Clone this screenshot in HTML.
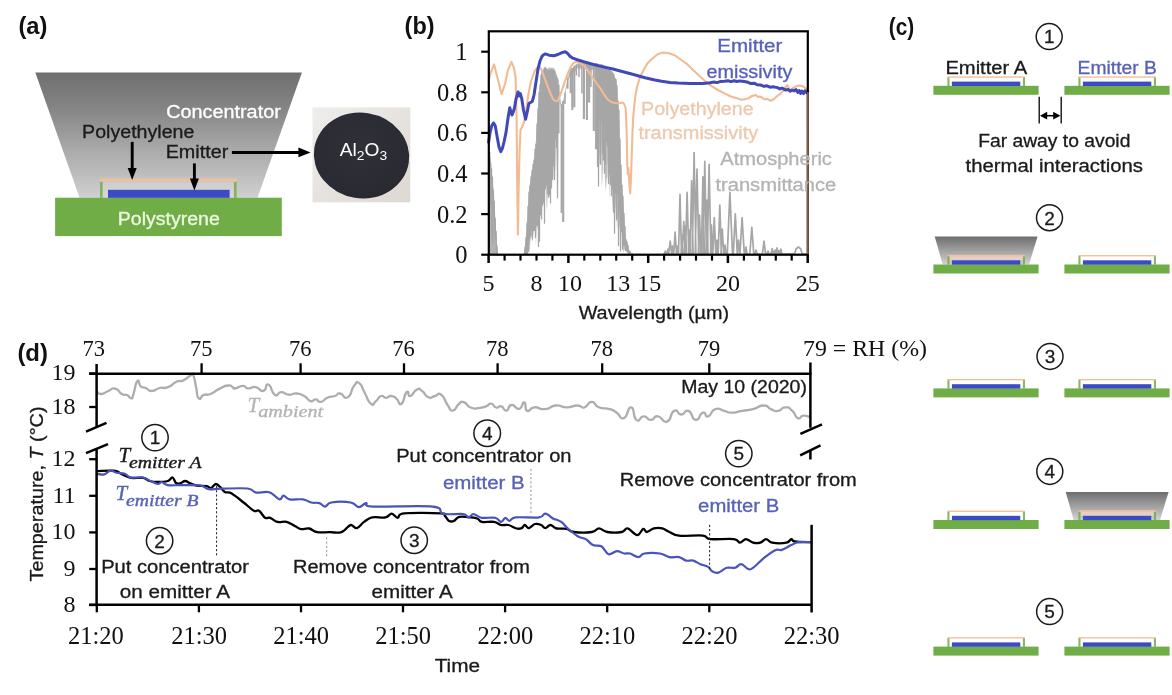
<!DOCTYPE html>
<html lang="en"><head><meta charset="utf-8"><title>Radiative cooling concentrator figure</title>
<style>
html,body{margin:0;padding:0;background:#fff;}
body{width:1172px;height:695px;overflow:hidden;}
svg{display:block;}
.sans{font-family:"Liberation Sans", sans-serif;}
.serif{font-family:"Liberation Serif", serif;}
</style></head><body>
<svg width="1172" height="695" viewBox="0 0 1172 695">
<defs>
<linearGradient id="gTrap" x1="0" y1="0" x2="0" y2="1"><stop offset="0" stop-color="#6f6f6f"/><stop offset="0.3" stop-color="#868686"/><stop offset="0.6" stop-color="#a8a8a8"/><stop offset="1" stop-color="#d0d0d0"/></linearGradient>
<linearGradient id="gTrapS" x1="0" y1="0" x2="0" y2="1"><stop offset="0" stop-color="#6e6e6e"/><stop offset="1" stop-color="#d2d2d2"/></linearGradient>
<linearGradient id="gPhoto" x1="0" y1="0" x2="1" y2="1"><stop offset="0" stop-color="#efeeec"/><stop offset="1" stop-color="#ddd8d2"/></linearGradient>
<radialGradient id="gDisk" cx="0.45" cy="0.4" r="0.7"><stop offset="0" stop-color="#2f3038"/><stop offset="0.8" stop-color="#2a2b32"/><stop offset="1" stop-color="#24252b"/></radialGradient>
</defs>
<rect width="1172" height="695" fill="#fff"/>
<g id="panel-a">
<text x="18.4" y="33.8" font-size="24" fill="#111" class="sans" textLength="29" lengthAdjust="spacingAndGlyphs" font-weight="bold">(a)</text>
<polygon points="35.3,72.6 301.9,72.6 257.5,197.7 79.6,197.7" fill="url(#gTrap)"/>
<rect x="102.4" y="182" width="131.4" height="15.7" fill="#ffffff" opacity="0.16"/>
<rect x="55.1" y="197.7" width="226.7" height="38.4" fill="#70ad47"/>
<rect x="108" y="189.8" width="121.6" height="8" fill="#3b4bc3"/>
<rect x="100" y="181.5" width="2.6" height="16.3" fill="#70ad47" opacity="0.8"/>
<rect x="234" y="181.5" width="2.6" height="16.3" fill="#70ad47" opacity="0.8"/>
<rect x="100" y="178.3" width="136.6" height="3.6" fill="#f2c0a0" opacity="0.8"/>
<text x="166.2" y="118" font-size="17.5" fill="#ffffff" class="sans" stroke="#ffffff" stroke-width="0.3" textLength="114.6" lengthAdjust="spacingAndGlyphs">Concentrator</text>
<text x="82.1" y="137.9" font-size="17.5" fill="#1a1a1a" class="sans" stroke="#1a1a1a" stroke-width="0.3" textLength="112.3" lengthAdjust="spacingAndGlyphs">Polyethylene</text>
<text x="165.7" y="157.7" font-size="17.5" fill="#1a1a1a" class="sans" stroke="#1a1a1a" stroke-width="0.3" textLength="62.6" lengthAdjust="spacingAndGlyphs">Emitter</text>
<text x="117.8" y="224.6" font-size="17.5" fill="#eef9e0" class="sans" stroke="#eef9e0" stroke-width="0.3" textLength="102" lengthAdjust="spacingAndGlyphs">Polystyrene</text>
<line x1="132.2" y1="141.9" x2="132.2" y2="169.1" stroke="#000" stroke-width="2.9"/>
<polygon points="127.69999999999999,168.1 136.7,168.1 132.2,180.1" fill="#000"/>
<line x1="194.4" y1="163.4" x2="194.4" y2="179.4" stroke="#000" stroke-width="2.9"/>
<polygon points="189.9,178.4 198.9,178.4 194.4,190.4" fill="#000"/>
<line x1="231.9" y1="152.4" x2="300" y2="152.4" stroke="#000" stroke-width="3"/>
<polygon points="298.4,147.6 298.4,157.2 310.6,152.4" fill="#000"/>
<rect x="312.5" y="107.4" width="97.8" height="94.9" fill="url(#gPhoto)"/>
<ellipse cx="361.5" cy="155.5" rx="47.8" ry="42.8" fill="url(#gDisk)" transform="rotate(9 361.5 155.5)"/>
<text x="339.8" y="155.8" font-size="18" fill="#fff" class="sans" textLength="47.4" lengthAdjust="spacingAndGlyphs">Al<tspan font-size="13" dy="4.5">2</tspan><tspan dy="-4.5">O</tspan><tspan font-size="13" dy="4.5">3</tspan></text>
</g>
<g id="panel-b">
<text x="404.6" y="33.8" font-size="24" fill="#111" class="sans" textLength="30" lengthAdjust="spacingAndGlyphs" font-weight="bold">(b)</text>
<polygon points="488.6,254.7 488.6,147.9 489.3,149.3 490.0,156.6 490.7,158.7 491.4,168.1 492.1,174.6 492.8,181.0 493.5,192.7 494.2,199.6 494.9,212.3 495.6,221.0 496.3,232.6 497.0,246.6 497.6,254.7" fill="#a6a6a6" opacity="0.85"/>
<polygon points="524.0,254.7 524.8,248.9 525.6,240.7 526.4,232.3 527.2,221.5 528.0,208.6 528.8,191.4 529.6,185.6 530.4,181.4 531.2,176.5 532.0,171.4 532.8,167.8 533.6,162.3 534.4,155.5 535.2,147.6 536.0,140.1 536.8,125.3 537.6,111.3 538.4,102.6 539.2,90.7 540.0,83.3 540.8,74.8 541.6,71.7 542.4,70.9 543.2,70.0 544.0,69.3 544.8,69.2 544.8,192.6 544.0,177.7 543.2,205.7 542.4,201.6 541.6,222.9 540.8,190.3 540.0,219.8 539.2,204.3 538.4,223.6 537.6,229.7 536.8,216.5 536.0,245.7 535.2,228.1 534.4,225.4 533.6,231.1 532.8,239.9 532.0,241.1 531.2,235.0 530.4,239.6 529.6,253.7 528.8,237.8 528.0,238.1 527.2,244.0 526.4,252.6 525.6,253.0 524.8,253.8 524.0,254.7" fill="#a6a6a6" opacity="0.8"/>
<polygon points="545.0,69.0 545.8,69.3 546.6,68.2 547.4,68.9 548.2,67.6 549.0,67.2 549.8,67.3 550.6,69.6 551.4,67.8 552.2,67.4 553.0,68.4 553.8,67.3 554.6,69.5 555.4,71.1 556.2,72.5 557.0,76.3 557.8,78.3 557.8,141.1 557.0,172.1 556.2,141.5 555.4,171.1 554.6,168.8 553.8,168.1 553.0,183.8 552.2,170.4 551.4,176.2 550.6,197.3 549.8,198.3 549.0,193.0 548.2,188.2 547.4,204.9 546.6,210.2 545.8,190.4 545.0,172.4" fill="#a6a6a6" opacity="0.5"/>
<polygon points="597.0,65.3 597.8,64.1 598.6,66.1 599.4,65.7 600.2,64.9 601.0,63.6 601.8,65.9 602.6,66.9 603.4,65.5 604.2,65.3 605.0,67.8 605.8,67.3 606.6,67.7 607.4,68.2 608.2,68.7 609.0,69.5 609.8,69.8 610.6,68.2 611.4,71.4 612.2,73.1 613.0,72.9 613.8,75.7 614.6,77.6 615.4,79.2 616.2,79.6 617.0,84.7 617.8,97.1 618.6,106.5 619.4,123.4 620.2,143.4 621.0,163.6 621.8,178.7 622.6,191.4 623.4,203.0 624.2,214.4 625.0,225.8 625.8,236.6 626.6,240.9 627.4,244.0 628.2,246.1 629.0,250.1 629.8,252.0 630.6,252.2 631.4,252.9 632.2,254.7 633.0,254.7 633.0,254.7 632.2,254.4 631.4,254.6 630.6,254.2 629.8,253.4 629.0,254.0 628.2,252.3 627.4,252.3 626.6,251.9 625.8,251.5 625.0,248.6 624.2,250.6 623.4,252.7 622.6,242.9 621.8,235.0 621.0,227.4 620.2,233.7 619.4,224.4 618.6,227.8 617.8,216.7 617.0,229.7 616.2,200.3 615.4,214.3 614.6,180.2 613.8,198.5 613.0,211.4 612.2,200.3 611.4,163.4 610.6,155.9 609.8,200.7 609.0,173.8 608.2,152.1 607.4,177.1 606.6,179.3 605.8,192.3 605.0,179.6 604.2,138.3 603.4,148.5 602.6,177.4 601.8,187.8 601.0,140.4 600.2,146.5 599.4,165.1 598.6,161.1 597.8,115.1 597.0,128.6" fill="#a6a6a6" opacity="0.7"/>
<polygon points="557.5,75.3 558.3,83.7 559.1,90.5 559.9,95.4 560.7,100.9 561.5,104.9 562.3,102.8 563.1,100.8 563.9,98.3 564.7,94.4 565.5,89.1 566.3,84.3 567.1,81.6 567.9,78.3 568.7,73.7 569.5,72.6 570.3,69.7 571.1,69.7 571.9,67.7 572.7,68.4 573.5,67.2 574.3,65.3 575.1,65.3 575.9,65.6 576.7,64.7 577.5,64.1 578.3,63.4 579.1,62.2 579.9,63.4 580.7,61.9 581.5,62.1 582.3,62.0 583.1,62.1 583.9,62.3 584.7,62.3 585.5,62.2 586.3,61.9 587.1,61.9 587.9,63.0 588.7,62.9 589.5,62.2 590.3,62.9 591.1,63.8 591.9,63.3 592.7,64.3 593.5,64.1 594.3,63.9 595.1,63.4 595.9,63.1 596.7,64.4 597.5,63.3 598.3,64.8 599.1,64.6 599.9,63.8 600.7,64.4 601.5,64.6 602.3,65.9 603.1,65.4 603.9,66.6 603.9,71.2 603.1,70.5 602.3,73.9 601.5,70.0 600.7,69.2 599.9,69.8 599.1,69.7 598.3,72.5 597.5,68.4 596.7,69.2 595.9,68.2 595.1,68.0 594.3,69.6 593.5,71.0 592.7,69.1 591.9,70.7 591.1,69.1 590.3,69.5 589.5,71.1 588.7,71.6 587.9,67.9 587.1,70.5 586.3,68.1 585.5,68.5 584.7,69.3 583.9,70.5 583.1,68.3 582.3,66.9 581.5,67.2 580.7,69.2 579.9,67.9 579.1,69.3 578.3,68.9 577.5,67.7 576.7,68.5 575.9,71.9 575.1,69.8 574.3,73.6 573.5,71.3 572.7,74.4 571.9,73.0 571.1,77.0 570.3,76.5 569.5,77.4 568.7,78.4 567.9,81.9 567.1,88.5 566.3,88.6 565.5,96.5 564.7,98.6 563.9,106.0 563.1,108.8 562.3,108.1 561.5,111.6 560.7,105.0 559.9,104.3 559.1,95.6 558.3,87.9 557.5,84.4" fill="#a6a6a6" opacity="0.8"/>
<line x1="558.5" y1="84.5" x2="558.5" y2="133.5" stroke="#a6a6a6" stroke-width="2.1"/>
<line x1="561.4" y1="104.5" x2="561.4" y2="213.0" stroke="#a6a6a6" stroke-width="1.6"/>
<line x1="563.2" y1="100.9" x2="563.2" y2="222.0" stroke="#a6a6a6" stroke-width="2.1"/>
<line x1="565.0" y1="92.5" x2="565.0" y2="103.9" stroke="#a6a6a6" stroke-width="1.5"/>
<line x1="567.8" y1="77.6" x2="567.8" y2="88.7" stroke="#a6a6a6" stroke-width="1.5"/>
<line x1="570.7" y1="69.6" x2="570.7" y2="93.2" stroke="#a6a6a6" stroke-width="2.1"/>
<line x1="572.3" y1="67.9" x2="572.3" y2="110.1" stroke="#a6a6a6" stroke-width="2.1"/>
<line x1="574.3" y1="66.1" x2="574.3" y2="107.3" stroke="#a6a6a6" stroke-width="2.1"/>
<line x1="576.4" y1="64.3" x2="576.4" y2="75.6" stroke="#a6a6a6" stroke-width="1.5"/>
<line x1="579.0" y1="62.5" x2="579.0" y2="77.1" stroke="#a6a6a6" stroke-width="1.5"/>
<line x1="581.9" y1="62.6" x2="581.9" y2="93.5" stroke="#a6a6a6" stroke-width="1.5"/>
<line x1="583.9" y1="62.7" x2="583.9" y2="119.0" stroke="#a6a6a6" stroke-width="2.1"/>
<line x1="586.9" y1="62.9" x2="586.9" y2="120.0" stroke="#a6a6a6" stroke-width="2.1"/>
<line x1="589.1" y1="63.0" x2="589.1" y2="102.6" stroke="#a6a6a6" stroke-width="2.1"/>
<line x1="590.9" y1="63.1" x2="590.9" y2="86.9" stroke="#a6a6a6" stroke-width="1.5"/>
<line x1="593.8" y1="63.5" x2="593.8" y2="131.0" stroke="#a6a6a6" stroke-width="2.1"/>
<line x1="596.1" y1="63.8" x2="596.1" y2="149.2" stroke="#a6a6a6" stroke-width="2.1"/>
<polyline points="488.9,150.8 489.3,169.1 489.8,152.4 490.2,203.9 490.7,163.0 491.1,207.9 491.6,168.9 492.0,240.5 492.5,177.2 492.9,243.5 493.4,189.8 493.8,212.0 494.3,201.4 494.7,234.3 495.2,218.3 495.6,240.1 496.1,231.6 496.5,254.7 497.0,245.9 497.4,254.7 497.6,254.7 523.5,254.7 524.0,254.5 524.5,254.7 525.0,247.2 525.5,254.1 526.0,237.5 526.5,253.1 527.0,222.8 527.5,254.3 528.0,206.5 528.5,251.3 529.0,192.5 529.5,240.0 530.0,185.6 530.5,235.6 531.0,176.9 531.5,231.2 532.0,170.3 532.5,238.3 533.0,164.4 533.5,230.5 534.0,160.1 534.5,230.5 535.0,149.2 535.5,237.4 536.0,144.2 536.5,225.3 537.0,124.1 537.5,225.8 538.0,108.9 538.5,246.4 539.0,92.5 539.5,241.2 540.0,84.8 540.5,214.6 541.0,75.1 541.5,218.7 542.0,70.7 542.5,205.4 543.0,72.0 543.5,202.5 544.0,68.5 544.5,223.2 545.0,67.4 545.5,188.6 546.0,68.0 546.5,184.9 547.0,69.5 547.5,193.6 548.0,70.4 548.5,197.0 549.0,70.2 549.5,194.3 550.0,68.3 550.5,203.1 551.0,69.8 551.5,187.8 552.0,68.3 552.5,179.4 553.0,70.4 553.5,165.3 554.0,69.3 554.5,179.5 555.0,71.5 555.5,139.2 556.0,74.9 556.5,147.7 557.0,77.5 557.5,197.8 558.0,79.2" fill="none" stroke="#a6a6a6" stroke-width="1.25" stroke-linejoin="round"/>
<polyline points="597.0,63.0 597.0,67.4 597.5,166.4 598.0,67.7 598.5,186.1 599.0,66.8 599.5,120.6 600.0,65.6 600.5,164.2 601.0,64.9 601.5,121.8 602.0,64.5 602.5,153.6 603.0,65.8 603.5,160.0 604.0,66.0 604.5,173.2 605.0,67.8 605.5,164.1 606.0,66.3 606.5,141.3 607.0,68.3 607.5,146.1 608.0,71.2 608.5,183.6 609.0,67.6 609.5,173.7 610.0,67.5 610.5,184.5 611.0,71.3 611.5,195.8 612.0,71.9 612.5,189.0 613.0,73.2 613.5,212.1 614.0,74.6 614.5,233.3 615.0,78.3 615.5,193.4 616.0,79.3 616.5,219.8 617.0,85.9 617.5,194.1 618.0,101.2 618.5,245.8 619.0,110.2 619.5,211.7 620.0,138.9 620.5,251.0 621.0,165.0 621.5,231.4 622.0,185.4 622.5,249.2 623.0,196.1 623.5,245.4 624.0,213.4 624.5,245.0 625.0,226.7 625.5,250.4 626.0,239.8 626.5,250.5 627.0,241.7 627.5,252.0 628.0,245.5 628.5,253.9 629.0,250.7 629.5,254.5 630.0,251.4 630.5,254.1 631.0,254.2 631.5,254.3 632.0,253.5 632.5,254.5 633.0,254.5 633.5,254.7 634.0,254.7" fill="none" stroke="#a6a6a6" stroke-width="1.25" stroke-linejoin="round"/>
<polyline points="663.0,254.2 664.2,254.2 665.4,251.0 666.6,254.2 667.0,254.2 668.0,249.0 669.0,254.2 668.7,254.2 670.2,241.0 671.7,254.2 671.5,254.2 672.5,246.0 673.5,254.2 673.7,254.2 675.1,232.0 676.5,254.2 676.5,254.2 677.5,246.0 678.5,254.2 678.5,254.2 680.0,194.4 681.5,254.2 681.0,254.2 682.0,235.0 683.0,254.2 682.2,254.2 683.8,221.6 685.4,254.2 684.5,254.2 685.5,226.0 686.5,254.2 685.5,254.2 687.1,192.4 688.7,254.2 688.5,254.2 689.5,230.0 690.5,254.2 690.1,254.2 691.6,180.8 693.1,254.2 692.3,254.2 694.1,152.6 695.9,254.2 695.2,254.2 697.0,169.0 698.8,254.2 698.3,254.2 699.5,215.0 700.7,254.2 701.4,254.2 702.9,176.9 704.4,254.2 703.2,254.2 704.8,161.4 706.4,254.2 706.0,254.2 707.0,200.0 708.0,254.2 707.3,254.2 709.1,164.3 710.9,254.2 710.5,254.2 711.5,225.0 712.5,254.2 712.8,254.2 714.3,217.7 715.8,254.2 716.0,254.2 717.0,240.0 718.0,254.2 718.2,254.2 719.8,205.0 721.4,254.2 720.9,254.2 722.3,229.0 723.7,254.2 724.0,254.2 725.0,245.0 726.0,254.2 727.3,254.2 729.9,192.4 732.5,254.2 733.3,254.2 735.3,213.8 737.3,254.2 737.3,254.2 738.5,240.0 739.7,254.2 739.9,254.2 742.1,217.7 744.3,254.2 745.0,254.2 746.0,247.0 747.0,254.2 749.8,254.2 751.8,227.4 753.8,254.2 755.0,254.2 756.0,250.0 757.0,254.2 762.4,254.2 764.0,241.0 765.6,254.2 767.0,254.2 768.0,251.0 769.0,254.2 770.9,254.2 772.2,248.7 773.5,254.2 774.0,254.2 775.0,250.0 776.0,254.2 775.8,254.2 777.0,247.8 778.2,254.2 778.2,254.2 779.0,250.5 779.8,254.2 779.9,254.2 780.9,249.0 781.9,254.2 794.5,254.2 796.0,249.0 798.4,246.8 800.8,249.0 802.3,254.2 807.7,254.2" fill="none" stroke="#a6a6a6" stroke-width="1.7" stroke-linejoin="round"/>
<polyline points="488.6,81.0 491.0,72.0 494.1,64.4 497.0,76.0 501.6,94.2 505.0,84.0 508.0,70.0 511.5,61.9 514.0,68.0 515.6,77.7 516.6,120.0 517.3,190.0 517.9,234.6 518.6,190.0 519.6,150.0 520.5,130.0 522.0,127.0 524.0,122.0 526.0,112.0 528.4,94.2 531.0,81.0 534.7,71.0 537.0,68.0 539.6,66.9 542.0,71.0 546.2,82.6 549.5,91.0 552.9,99.2 555.5,101.0 557.8,100.8 561.0,93.0 564.5,82.6 568.0,73.0 571.1,66.1 573.5,63.0 576.0,61.9 580.0,63.0 584.3,66.0 588.5,71.5 592.6,77.7 596.7,83.5 600.9,89.2 604.0,94.5 607.5,99.2 611.0,102.0 615.8,103.3 620.0,103.0 622.4,102.5 624.2,104.0 625.7,108.0 626.6,130.0 627.3,165.0 627.8,174.0 628.4,168.0 628.9,176.0 629.5,186.0 630.2,193.4 630.9,180.0 631.6,160.0 632.4,135.0 633.2,118.0 634.0,108.0 635.5,95.0 637.3,86.0 640.0,77.0 643.9,69.4 647.0,64.0 650.5,60.3 653.3,57.8 658.0,54.0 663.2,52.5 668.0,53.0 674.8,55.3 680.0,59.0 686.4,63.6 693.0,70.0 699.6,76.0 705.0,81.0 711.2,85.9 718.0,90.0 724.5,93.4 731.0,96.5 737.7,98.4 741.0,99.8 744.3,99.2 748.0,98.5 752.0,96.0 755.9,95.0 758.0,97.0 760.0,96.5 764.2,99.2 767.0,99.0 770.8,100.8 774.0,99.0 777.4,95.9 780.0,94.0 782.4,91.7 785.0,88.0 787.4,85.1 789.0,88.0 790.7,91.7 793.0,88.0 797.3,85.9 800.0,85.5 803.9,86.8 806.0,89.0 807.7,91.0 807.9,254.7" fill="none" stroke="#f2bb94" stroke-width="2.1" stroke-linejoin="round"/>
<polyline points="488.6,142.0 490.0,133.0 491.8,125.5 493.6,122.9 495.3,126.0 497.0,136.0 499.0,147.0 500.8,151.6 502.5,148.0 504.0,142.0 506.0,132.6 508.0,118.0 509.8,107.8 511.0,112.0 512.0,115.0 513.2,112.0 514.5,108.0 516.0,99.0 518.1,92.0 519.3,96.0 520.4,93.5 521.8,99.0 523.5,110.0 525.6,119.2 527.0,113.0 528.9,103.5 530.5,102.5 532.4,101.2 534.0,95.0 536.0,82.0 538.0,69.0 540.0,61.0 542.1,56.1 543.8,54.6 545.4,53.9 549.0,55.2 553.8,55.8 558.0,54.5 562.0,52.6 565.2,51.8 567.8,53.6 570.0,56.2 572.8,58.2 578.0,60.0 584.3,61.9 590.7,63.7 600.9,66.4 613.0,69.0 617.4,70.2 626.0,72.5 635.3,75.0 645.0,77.7 655.0,80.0 661.6,81.3 670.0,82.4 678.1,83.0 690.0,83.6 702.9,83.5 710.0,82.7 714.0,82.0 717.0,82.6 720.0,81.6 724.5,81.3 728.0,80.8 731.0,81.6 734.0,80.7 737.0,81.5 740.0,80.9 744.3,81.5 748.0,82.3 751.0,83.6 754.0,83.2 757.0,84.7 760.9,85.1 764.0,86.3 767.0,85.8 770.0,87.2 773.0,86.7 777.4,87.6 780.0,88.9 782.0,88.0 785.7,90.1 788.0,89.4 790.0,91.2 792.0,90.0 794.0,90.9 796.0,89.6 797.8,92.5 799.2,90.5 800.6,93.4 802.0,91.0 803.5,93.6 805.0,90.8 806.5,92.6 807.7,91.7" fill="none" stroke="#4149b8" stroke-width="3" stroke-linejoin="round" stroke-linecap="round"/>
<rect x="488.8" y="31.3" width="319" height="223.4" fill="none" stroke="#000" stroke-width="2.2"/>
<line x1="807.9" y1="92" x2="807.9" y2="254" stroke="#f4b183" stroke-width="1.2" opacity="0.75"/>
<line x1="481.2" y1="254.7" x2="488.8" y2="254.7" stroke="#000" stroke-width="2.2"/>
<text x="467.6" y="263.2" font-size="24.5" fill="#111" class="serif" text-anchor="end">0</text>
<line x1="481.2" y1="214.1" x2="488.8" y2="214.1" stroke="#000" stroke-width="2.2"/>
<text x="467.6" y="222.6" font-size="24.5" fill="#111" class="serif" text-anchor="end">0.2</text>
<line x1="481.2" y1="173.5" x2="488.8" y2="173.5" stroke="#000" stroke-width="2.2"/>
<text x="467.6" y="182.0" font-size="24.5" fill="#111" class="serif" text-anchor="end">0.4</text>
<line x1="481.2" y1="132.9" x2="488.8" y2="132.9" stroke="#000" stroke-width="2.2"/>
<text x="467.6" y="141.4" font-size="24.5" fill="#111" class="serif" text-anchor="end">0.6</text>
<line x1="481.2" y1="92.3" x2="488.8" y2="92.3" stroke="#000" stroke-width="2.2"/>
<text x="467.6" y="100.8" font-size="24.5" fill="#111" class="serif" text-anchor="end">0.8</text>
<line x1="481.2" y1="51.7" x2="488.8" y2="51.7" stroke="#000" stroke-width="2.2"/>
<text x="467.6" y="60.2" font-size="24.5" fill="#111" class="serif" text-anchor="end">1</text>
<line x1="488.6" y1="254.7" x2="488.6" y2="263" stroke="#000" stroke-width="2.5"/>
<line x1="504.6" y1="254.7" x2="504.6" y2="260.6" stroke="#000" stroke-width="2.2"/>
<line x1="520.5" y1="254.7" x2="520.5" y2="260.6" stroke="#000" stroke-width="2.2"/>
<line x1="536.5" y1="254.7" x2="536.5" y2="260.6" stroke="#000" stroke-width="2.2"/>
<line x1="552.4" y1="254.7" x2="552.4" y2="260.6" stroke="#000" stroke-width="2.2"/>
<line x1="568.4" y1="254.7" x2="568.4" y2="263" stroke="#000" stroke-width="2.5"/>
<line x1="584.3" y1="254.7" x2="584.3" y2="260.6" stroke="#000" stroke-width="2.2"/>
<line x1="600.3" y1="254.7" x2="600.3" y2="260.6" stroke="#000" stroke-width="2.2"/>
<line x1="616.2" y1="254.7" x2="616.2" y2="260.6" stroke="#000" stroke-width="2.2"/>
<line x1="632.2" y1="254.7" x2="632.2" y2="260.6" stroke="#000" stroke-width="2.2"/>
<line x1="648.2" y1="254.7" x2="648.2" y2="263" stroke="#000" stroke-width="2.5"/>
<line x1="664.1" y1="254.7" x2="664.1" y2="260.6" stroke="#000" stroke-width="2.2"/>
<line x1="680.1" y1="254.7" x2="680.1" y2="260.6" stroke="#000" stroke-width="2.2"/>
<line x1="696.0" y1="254.7" x2="696.0" y2="260.6" stroke="#000" stroke-width="2.2"/>
<line x1="712.0" y1="254.7" x2="712.0" y2="260.6" stroke="#000" stroke-width="2.2"/>
<line x1="727.9" y1="254.7" x2="727.9" y2="263" stroke="#000" stroke-width="2.5"/>
<line x1="743.9" y1="254.7" x2="743.9" y2="260.6" stroke="#000" stroke-width="2.2"/>
<line x1="759.8" y1="254.7" x2="759.8" y2="260.6" stroke="#000" stroke-width="2.2"/>
<line x1="775.8" y1="254.7" x2="775.8" y2="260.6" stroke="#000" stroke-width="2.2"/>
<line x1="791.7" y1="254.7" x2="791.7" y2="260.6" stroke="#000" stroke-width="2.2"/>
<line x1="807.7" y1="254.7" x2="807.7" y2="263" stroke="#000" stroke-width="2.5"/>
<text x="488.6" y="291.3" font-size="24" fill="#111" class="serif" text-anchor="middle">5</text>
<text x="536.5" y="291.3" font-size="24" fill="#111" class="serif" text-anchor="middle">8</text>
<text x="570.0" y="291.3" font-size="24" fill="#111" class="serif" text-anchor="middle">10</text>
<text x="618.2" y="291.3" font-size="24" fill="#111" class="serif" text-anchor="middle">13</text>
<text x="649.2" y="291.3" font-size="24" fill="#111" class="serif" text-anchor="middle">15</text>
<text x="727.9" y="291.3" font-size="24" fill="#111" class="serif" text-anchor="middle">20</text>
<text x="807.7" y="291.3" font-size="24" fill="#111" class="serif" text-anchor="middle">25</text>
<text x="578.7" y="318.6" font-size="17.5" fill="#1a1a1a" class="sans" stroke="#1a1a1a" stroke-width="0.3" textLength="150.3" lengthAdjust="spacingAndGlyphs">Wavelength (µm)</text>
<text x="717.3" y="51.8" font-size="17.5" fill="#5761b8" class="sans" stroke="#5761b8" stroke-width="0.3" textLength="65.1" lengthAdjust="spacingAndGlyphs">Emitter</text>
<text x="706.6" y="78.0" font-size="17.5" fill="#5761b8" class="sans" stroke="#5761b8" stroke-width="0.3" textLength="85.7" lengthAdjust="spacingAndGlyphs">emissivity</text>
<text x="641" y="114.8" font-size="17.5" fill="#edc8ad" class="sans" stroke="#edc8ad" stroke-width="0.3" textLength="112.7" lengthAdjust="spacingAndGlyphs">Polyethylene</text>
<text x="638.4" y="138.8" font-size="17.5" fill="#edc8ad" class="sans" stroke="#edc8ad" stroke-width="0.3" textLength="119.8" lengthAdjust="spacingAndGlyphs">transmissivity</text>
<text x="720.3" y="164.7" font-size="17.5" fill="#b3b3b3" class="sans" stroke="#b3b3b3" stroke-width="0.3" textLength="111.6" lengthAdjust="spacingAndGlyphs">Atmospheric</text>
<text x="715.4" y="190.6" font-size="17.5" fill="#b3b3b3" class="sans" stroke="#b3b3b3" stroke-width="0.3" textLength="120.9" lengthAdjust="spacingAndGlyphs">transmittance</text>
</g>
<g id="panel-c">
<text x="888.8" y="34.8" font-size="24" fill="#111" class="sans" textLength="25.5" lengthAdjust="spacingAndGlyphs" font-weight="bold">(c)</text>
<rect x="933.4" y="85.8" width="105.2" height="9" fill="#70ad47"/>
<rect x="951.9" y="81.6" width="68.4" height="4.4" fill="#3b4bc3"/>
<rect x="947.4" y="77.2" width="2.1" height="8.8" fill="#70ad47" opacity="0.85"/>
<rect x="1022.9" y="77.2" width="2.1" height="8.8" fill="#70ad47" opacity="0.85"/>
<rect x="947.4" y="76.39999999999999" width="77.6" height="1.3" fill="#f2bc96"/>
<rect x="1064.4" y="85.8" width="105.2" height="9" fill="#70ad47"/>
<rect x="1082.9" y="81.6" width="68.4" height="4.4" fill="#3b4bc3"/>
<rect x="1078.4" y="77.2" width="2.1" height="8.8" fill="#70ad47" opacity="0.85"/>
<rect x="1153.9" y="77.2" width="2.1" height="8.8" fill="#70ad47" opacity="0.85"/>
<rect x="1078.4" y="76.39999999999999" width="77.6" height="1.3" fill="#f2bc96"/>
<polygon points="934.6999999999999,236.5 1037.6,236.5 1029.0,264.5 942.6999999999999,264.5" fill="url(#gTrapS)"/>
<rect x="949.4" y="254.9" width="73.6" height="5.6" fill="#edd3c4" opacity="0.85"/>
<rect x="933.4" y="264.5" width="105.2" height="9" fill="#70ad47"/>
<rect x="951.9" y="260.3" width="68.4" height="4.4" fill="#3b4bc3"/>
<rect x="947.4" y="255.9" width="2.1" height="8.8" fill="#70ad47" opacity="0.85"/>
<rect x="1022.9" y="255.9" width="2.1" height="8.8" fill="#70ad47" opacity="0.85"/>
<rect x="947.4" y="255.1" width="77.6" height="1.3" fill="#efc0a0"/>
<rect x="1064.4" y="264.5" width="105.2" height="9" fill="#70ad47"/>
<rect x="1082.9" y="260.3" width="68.4" height="4.4" fill="#3b4bc3"/>
<rect x="1078.4" y="255.9" width="2.1" height="8.8" fill="#70ad47" opacity="0.85"/>
<rect x="1153.9" y="255.9" width="2.1" height="8.8" fill="#70ad47" opacity="0.85"/>
<rect x="1078.4" y="255.1" width="77.6" height="1.3" fill="#f2bc96"/>
<rect x="933.4" y="388.4" width="105.2" height="9" fill="#70ad47"/>
<rect x="951.9" y="384.2" width="68.4" height="4.4" fill="#3b4bc3"/>
<rect x="947.4" y="379.79999999999995" width="2.1" height="8.8" fill="#70ad47" opacity="0.85"/>
<rect x="1022.9" y="379.79999999999995" width="2.1" height="8.8" fill="#70ad47" opacity="0.85"/>
<rect x="947.4" y="379.0" width="77.6" height="1.3" fill="#f2bc96"/>
<rect x="1064.4" y="388.4" width="105.2" height="9" fill="#70ad47"/>
<rect x="1082.9" y="384.2" width="68.4" height="4.4" fill="#3b4bc3"/>
<rect x="1078.4" y="379.79999999999995" width="2.1" height="8.8" fill="#70ad47" opacity="0.85"/>
<rect x="1153.9" y="379.79999999999995" width="2.1" height="8.8" fill="#70ad47" opacity="0.85"/>
<rect x="1078.4" y="379.0" width="77.6" height="1.3" fill="#f2bc96"/>
<rect x="933.4" y="520" width="105.2" height="9" fill="#70ad47"/>
<rect x="951.9" y="515.8" width="68.4" height="4.4" fill="#3b4bc3"/>
<rect x="947.4" y="511.4" width="2.1" height="8.8" fill="#70ad47" opacity="0.85"/>
<rect x="1022.9" y="511.4" width="2.1" height="8.8" fill="#70ad47" opacity="0.85"/>
<rect x="947.4" y="510.6" width="77.6" height="1.3" fill="#f2bc96"/>
<polygon points="1065.7,492 1168.6000000000001,492 1160.0,520 1073.7,520" fill="url(#gTrapS)"/>
<rect x="1080.4" y="510.4" width="73.6" height="5.6" fill="#edd3c4" opacity="0.85"/>
<rect x="1064.4" y="520" width="105.2" height="9" fill="#70ad47"/>
<rect x="1082.9" y="515.8" width="68.4" height="4.4" fill="#3b4bc3"/>
<rect x="1078.4" y="511.4" width="2.1" height="8.8" fill="#70ad47" opacity="0.85"/>
<rect x="1153.9" y="511.4" width="2.1" height="8.8" fill="#70ad47" opacity="0.85"/>
<rect x="1078.4" y="510.6" width="77.6" height="1.3" fill="#efc0a0"/>
<rect x="933.4" y="646.6" width="105.2" height="9" fill="#70ad47"/>
<rect x="951.9" y="642.4" width="68.4" height="4.4" fill="#3b4bc3"/>
<rect x="947.4" y="638.0" width="2.1" height="8.8" fill="#70ad47" opacity="0.85"/>
<rect x="1022.9" y="638.0" width="2.1" height="8.8" fill="#70ad47" opacity="0.85"/>
<rect x="947.4" y="637.2" width="77.6" height="1.3" fill="#f2bc96"/>
<rect x="1064.4" y="646.6" width="105.2" height="9" fill="#70ad47"/>
<rect x="1082.9" y="642.4" width="68.4" height="4.4" fill="#3b4bc3"/>
<rect x="1078.4" y="638.0" width="2.1" height="8.8" fill="#70ad47" opacity="0.85"/>
<rect x="1153.9" y="638.0" width="2.1" height="8.8" fill="#70ad47" opacity="0.85"/>
<rect x="1078.4" y="637.2" width="77.6" height="1.3" fill="#f2bc96"/>
<circle cx="1049.2" cy="36.6" r="13.0" fill="none" stroke="#1a1a1a" stroke-width="1.5"/>
<text x="1049.2" y="43.4" font-size="19" fill="#1a1a1a" class="sans" stroke="#1a1a1a" stroke-width="0.3" text-anchor="middle">1</text>
<circle cx="1049.5" cy="217.7" r="13.0" fill="none" stroke="#1a1a1a" stroke-width="1.5"/>
<text x="1049.5" y="224.5" font-size="19" fill="#1a1a1a" class="sans" stroke="#1a1a1a" stroke-width="0.3" text-anchor="middle">2</text>
<circle cx="1050" cy="356.4" r="13.0" fill="none" stroke="#1a1a1a" stroke-width="1.5"/>
<text x="1050" y="363.2" font-size="19" fill="#1a1a1a" class="sans" stroke="#1a1a1a" stroke-width="0.3" text-anchor="middle">3</text>
<circle cx="1049.8" cy="471.4" r="13.0" fill="none" stroke="#1a1a1a" stroke-width="1.5"/>
<text x="1049.8" y="478.2" font-size="19" fill="#1a1a1a" class="sans" stroke="#1a1a1a" stroke-width="0.3" text-anchor="middle">4</text>
<circle cx="1049.6" cy="611.6" r="13.0" fill="none" stroke="#1a1a1a" stroke-width="1.5"/>
<text x="1049.6" y="618.4" font-size="19" fill="#1a1a1a" class="sans" stroke="#1a1a1a" stroke-width="0.3" text-anchor="middle">5</text>
<text x="945.4" y="73.5" font-size="17.5" fill="#1a1a1a" class="sans" stroke="#1a1a1a" stroke-width="0.3" textLength="81.8" lengthAdjust="spacingAndGlyphs">Emitter A</text>
<text x="1077.6" y="73.5" font-size="17.5" fill="#5761b8" class="sans" stroke="#5761b8" stroke-width="0.3" textLength="79.3" lengthAdjust="spacingAndGlyphs">Emitter B</text>
<line x1="1039.2" y1="96.8" x2="1039.2" y2="123.6" stroke="#000" stroke-width="1.3"/>
<line x1="1061.2" y1="96.8" x2="1061.2" y2="123.6" stroke="#000" stroke-width="1.3"/>
<line x1="1044" y1="115.7" x2="1056.5" y2="115.7" stroke="#000" stroke-width="1.5"/>
<polygon points="1040,115.7 1047.2,111.8 1047.2,119.6" fill="#000"/>
<polygon points="1060.4,115.7 1053.2,111.8 1053.2,119.6" fill="#000"/>
<text x="978.2" y="146.5" font-size="17.5" fill="#1a1a1a" class="sans" stroke="#1a1a1a" stroke-width="0.3" textLength="152.2" lengthAdjust="spacingAndGlyphs">Far away to avoid</text>
<text x="965.6" y="171.8" font-size="17.5" fill="#1a1a1a" class="sans" stroke="#1a1a1a" stroke-width="0.3" textLength="177.4" lengthAdjust="spacingAndGlyphs">thermal interactions</text>
</g>
<g id="panel-d">
<text x="17.4" y="360.7" font-size="24" fill="#111" class="sans" textLength="30.5" lengthAdjust="spacingAndGlyphs" font-weight="bold">(d)</text>
<path d="M96.8,391.5 C98.3,392.3 97.6,394.2 101.4,394.0 C105.2,393.8 103.7,392.8 108.3,391.0 C112.9,389.2 110.6,387.6 115.1,388.6 C119.6,389.6 117.9,391.9 121.9,394.0 C125.9,396.1 123.9,393.6 127.0,395.0 C130.1,396.4 129.1,398.6 131.3,398.3 C133.5,398.0 131.5,399.7 133.5,394.0 C135.5,388.3 134.9,383.8 137.3,381.2 C139.7,378.6 137.9,384.0 140.7,386.3 C143.5,388.6 142.1,386.4 145.8,388.0 C149.5,389.6 147.2,391.0 151.8,391.0 C156.4,391.0 154.1,389.3 159.5,388.0 C164.9,386.7 162.3,389.3 168.0,387.2 C173.7,385.1 171.4,384.0 176.5,381.7 C181.6,379.4 178.5,382.6 183.3,380.4 C188.1,378.2 187.6,376.6 191.0,375.2 C194.4,373.8 191.9,372.1 193.6,376.1 C195.3,380.1 194.4,379.8 196.1,387.2 C197.8,394.6 196.1,395.7 198.7,398.3 C201.3,400.9 199.8,396.3 203.8,394.9 C207.8,393.5 205.5,396.0 210.6,394.0 C215.7,392.0 213.5,391.7 219.2,388.9 C224.9,386.1 223.2,386.1 227.7,385.5 C232.2,384.9 230.3,386.2 232.8,387.2 C235.3,388.2 231.8,388.9 235.1,388.4 C238.4,387.9 238.5,385.8 242.8,385.8 C247.1,385.8 243.6,388.0 247.9,388.4 C252.2,388.8 250.5,386.3 255.6,387.1 C260.7,387.9 259.0,391.8 263.3,390.9 C267.6,390.0 264.6,383.2 268.4,384.5 C272.2,385.8 270.5,392.1 274.8,394.7 C279.1,397.3 276.5,392.2 281.2,392.2 C285.9,392.2 283.8,394.3 288.9,394.7 C294.0,395.1 291.4,393.1 296.5,393.5 C301.6,393.9 299.5,393.5 304.2,396.0 C308.9,398.5 306.8,400.0 310.6,401.1 C314.4,402.2 312.3,399.1 315.7,399.4 C319.1,399.7 317.0,402.4 320.9,401.9 C324.8,401.4 322.6,399.8 327.3,397.8 C332.0,395.8 330.6,397.4 334.9,396.0 C339.2,394.6 335.8,393.1 340.1,393.5 C344.4,393.9 343.0,399.9 347.7,397.3 C352.4,394.7 350.2,390.5 354.1,385.8 C358.0,381.1 355.9,381.1 359.3,383.2 C362.7,385.3 360.6,385.4 364.4,392.2 C368.2,399.0 367.0,400.7 370.8,403.7 C374.6,406.7 372.5,403.7 375.9,401.1 C379.3,398.5 377.6,397.1 381.0,396.0 C384.4,394.9 382.7,397.8 386.1,397.8 C389.5,397.8 387.8,395.7 391.2,396.0 C394.6,396.3 393.0,396.0 396.4,398.6 C399.8,401.2 398.1,405.8 401.5,403.7 C404.9,401.6 403.6,394.8 406.6,392.2 C409.6,389.6 407.0,396.9 410.4,396.0 C413.8,395.1 412.9,391.3 416.8,389.6 C420.7,387.9 418.1,388.3 422.0,390.9 C425.9,393.5 424.1,395.6 428.4,397.3 C432.7,399.0 430.5,396.9 434.8,396.0 C439.1,395.1 436.9,391.7 441.2,394.7 C445.5,397.7 443.8,399.7 447.6,405.0 C451.4,410.3 448.9,411.0 452.7,410.6 C456.5,410.2 455.3,406.4 459.1,403.7 C462.9,401.0 460.4,401.1 464.2,402.4 C468.0,403.7 465.9,405.6 470.6,407.5 C475.3,409.4 473.2,408.5 478.3,408.1 C483.4,407.7 481.7,407.8 486.0,406.3 C490.3,404.8 487.7,403.3 491.1,403.7 C494.5,404.1 492.8,406.6 496.2,407.5 C499.6,408.4 497.9,405.3 501.3,406.3 C504.7,407.3 503.0,411.0 506.4,410.6 C509.8,410.2 507.2,405.6 511.5,405.0 C515.8,404.4 514.9,409.7 519.2,408.8 C523.5,407.9 521.6,401.7 524.3,402.4 C527.0,403.1 523.9,409.3 527.2,410.9 C530.5,412.5 528.3,407.9 534.3,407.3 C540.3,406.7 537.9,409.7 545.1,409.1 C552.3,408.5 548.6,406.1 555.8,405.5 C563.0,404.9 559.4,407.3 566.6,407.3 C573.8,407.3 571.3,405.5 577.3,405.5 C583.3,405.5 579.7,408.5 584.5,407.3 C589.3,406.1 586.9,401.9 591.7,401.9 C596.5,401.9 592.9,404.9 598.9,407.3 C604.9,409.7 603.6,407.3 609.6,409.1 C615.6,410.9 612.0,409.7 616.8,412.7 C621.6,415.7 619.1,419.9 623.9,418.1 C628.7,416.3 626.9,406.7 631.1,407.3 C635.3,407.9 632.3,416.9 636.5,419.9 C640.7,422.9 638.9,416.3 643.7,416.3 C648.5,416.3 646.0,419.9 650.8,419.9 C655.6,419.9 652.6,415.7 658.0,416.3 C663.4,416.9 661.6,423.4 667.0,421.6 C672.4,419.8 669.3,413.3 674.1,410.9 C678.9,408.5 676.5,414.5 681.3,414.5 C686.1,414.5 683.7,409.1 688.5,410.9 C693.3,412.7 690.8,419.3 695.6,419.9 C700.4,420.5 698.6,413.9 702.8,412.7 C707.0,411.5 704.0,417.5 708.2,416.3 C712.4,415.1 709.9,410.9 715.3,409.1 C720.7,407.3 718.9,409.7 724.3,410.9 C729.7,412.1 725.5,412.7 731.5,412.7 C737.5,412.7 735.0,412.1 742.2,410.9 C749.4,409.7 745.8,410.9 753.0,409.1 C760.2,407.3 757.7,405.5 763.7,405.5 C769.7,405.5 766.1,407.3 770.9,409.1 C775.7,410.9 773.3,411.5 778.1,410.9 C782.9,410.3 780.4,407.3 785.2,407.3 C790.0,407.3 788.2,407.3 792.4,410.9 C796.6,414.5 794.2,416.5 797.8,418.1 C801.4,419.7 799.3,416.0 803.2,415.6 C807.1,415.2 807.5,416.5 809.6,417.0" fill="none" stroke="#adadad" stroke-width="2.3" stroke-linejoin="round"/>
<path d="M97.2,471.1 C99.6,471.0 106.9,470.7 110.5,470.7 C114.1,470.7 114.3,470.3 116.6,471.1 C118.9,471.9 120.2,473.6 122.8,474.8 C125.4,476.0 127.3,477.3 131.0,477.9 C134.7,478.5 139.8,477.3 143.2,477.9 C146.6,478.5 146.8,480.2 149.4,481.0 C152.0,481.8 154.2,482.0 157.6,482.0 C161.0,482.0 165.1,481.8 167.8,481.0 C170.5,480.2 171.0,477.1 172.5,477.5 C174.0,477.9 174.6,481.9 176.0,483.0 C177.4,484.1 178.4,483.8 180.1,483.4 C181.8,483.0 183.3,481.0 185.2,481.0 C187.1,481.0 188.2,482.6 190.3,483.4 C192.4,484.2 193.5,485.0 196.5,485.5 C199.5,486.0 204.1,485.6 206.7,486.1 C209.3,486.6 209.1,488.5 210.8,488.1 C212.5,487.7 214.0,484.0 215.9,484.0 C217.8,484.0 219.4,486.6 221.1,488.1 C222.8,489.6 223.3,491.3 225.2,492.2 C227.1,493.1 227.9,491.3 231.3,493.2 C234.7,495.1 239.5,499.3 243.6,502.5 C247.7,505.7 251.0,509.2 253.8,510.7 C256.6,512.2 256.9,509.4 259.0,510.7 C261.1,512.0 263.0,516.5 265.1,517.8 C267.2,519.1 267.9,517.0 270.2,517.8 C272.5,518.6 274.4,521.1 277.4,521.9 C280.4,522.7 283.4,521.1 286.6,521.9 C289.8,522.7 292.2,524.7 294.8,526.0 C297.4,527.3 298.3,528.6 300.9,529.1 C303.5,529.6 306.1,527.9 309.1,528.5 C312.1,529.1 313.5,531.5 317.3,532.2 C321.1,532.9 325.9,532.1 330.0,532.2 C334.1,532.3 336.8,533.0 339.5,532.6 C342.2,532.2 342.5,531.5 344.6,530.1 C346.7,528.7 348.4,525.4 350.7,525.0 C353.0,524.6 354.5,528.7 356.9,528.1 C359.3,527.5 361.2,523.9 364.0,521.9 C366.8,519.9 368.3,518.2 372.2,517.4 C376.1,516.6 381.9,518.1 385.5,517.4 C389.1,516.7 389.4,513.6 391.7,513.7 C394.0,513.8 395.5,517.9 397.8,517.8 C400.1,517.7 396.1,514.1 404.0,513.3 C411.9,512.5 433.3,512.8 440.8,513.3 C448.3,513.8 443.4,514.4 444.9,515.8 C446.4,517.2 447.3,520.0 449.0,520.9 C450.7,521.8 452.2,521.7 454.1,520.9 C456.0,520.1 456.1,517.4 459.3,516.8 C462.5,516.2 468.1,517.0 471.5,517.4 C474.9,517.8 475.8,518.0 477.7,518.8 C479.6,519.6 478.8,521.3 481.8,521.9 C484.8,522.5 490.5,521.3 494.1,521.9 C497.7,522.5 498.6,524.4 501.2,525.0 C503.8,525.6 505.6,524.4 508.4,525.0 C511.2,525.6 514.2,527.9 516.6,528.5 C519.0,529.1 520.2,528.7 521.7,528.1 C523.2,527.5 523.5,525.0 524.8,525.0 C526.1,525.0 527.0,528.3 528.9,528.1 C530.8,527.9 532.7,524.6 535.0,524.0 C537.3,523.4 539.3,524.2 541.2,525.0 C543.1,525.8 543.6,528.1 545.3,528.1 C547.0,528.1 548.5,525.0 550.4,525.0 C552.3,525.0 553.7,527.4 555.5,528.1 C557.3,528.8 557.9,528.6 560.0,528.7 C562.1,528.8 564.2,528.3 566.7,528.9 C569.2,529.5 569.3,531.4 573.9,532.0 C578.5,532.6 587.2,532.7 591.8,532.0 C596.4,531.3 596.2,528.4 599.0,528.4 C601.8,528.4 603.1,531.3 607.3,532.0 C611.5,532.7 618.0,532.7 621.7,532.0 C625.4,531.3 624.8,527.8 627.6,528.4 C630.4,529.0 634.3,535.0 637.2,535.1 C640.1,535.2 641.4,529.5 643.2,528.9 C645.0,528.3 644.8,532.1 646.8,532.0 C648.8,531.9 651.1,529.1 653.9,528.4 C656.7,527.7 659.5,527.7 662.3,528.4 C665.1,529.1 666.3,530.7 669.4,532.0 C672.5,533.3 672.9,534.9 679.0,535.6 C685.1,536.3 697.2,535.0 702.9,535.6 C708.6,536.2 704.4,538.5 710.1,539.1 C715.8,539.7 728.4,538.4 733.9,539.1 C739.4,539.8 737.7,542.7 739.9,542.7 C742.1,542.7 743.5,539.1 745.9,539.1 C748.3,539.1 750.5,542.0 753.1,542.7 C755.7,543.4 757.8,543.4 760.2,542.7 C762.6,542.0 764.0,539.1 766.2,539.1 C768.4,539.1 768.5,542.0 772.2,542.7 C775.9,543.4 783.0,543.4 786.5,542.7 C790.0,542.0 789.8,539.3 791.3,539.1 C792.8,538.9 791.3,540.9 794.9,541.5 C798.5,542.1 808.0,542.1 811.0,542.2" fill="none" stroke="#000" stroke-width="2.3" stroke-linejoin="round"/>
<path d="M97.2,473.8 C98.5,473.9 101.9,475.0 104.3,474.4 C106.7,473.8 108.2,471.0 110.5,470.7 C112.8,470.4 114.0,472.2 116.6,472.8 C119.2,473.4 122.2,472.9 124.8,473.8 C127.4,474.7 127.6,476.8 131.0,477.5 C134.4,478.2 139.8,476.9 143.2,477.5 C146.6,478.1 146.8,479.3 149.4,480.5 C152.0,481.7 155.3,483.7 157.6,484.0 C159.9,484.3 159.8,481.8 161.7,482.0 C163.6,482.2 164.0,484.5 167.8,485.1 C171.6,485.7 176.2,485.0 182.2,485.1 C188.2,485.2 195.7,484.7 200.6,485.5 C205.5,486.3 205.0,488.6 208.8,489.2 C212.6,489.8 214.0,488.8 221.1,488.7 C228.2,488.6 241.3,487.8 247.7,488.5 C254.1,489.2 252.0,491.9 255.9,492.6 C259.8,493.3 264.9,491.0 269.2,492.2 C273.5,493.4 276.8,498.8 279.4,499.4 C282.0,500.0 281.6,495.7 283.5,495.7 C285.4,495.7 286.1,498.7 289.7,499.4 C293.3,500.1 299.1,498.8 303.0,499.4 C306.9,500.0 308.2,501.8 311.2,502.5 C314.2,503.2 316.9,502.3 319.4,503.1 C321.9,503.9 322.9,506.7 325.1,506.6 C327.3,506.5 326.6,503.3 331.3,502.5 C336.0,501.7 345.6,501.6 350.7,502.5 C355.8,503.4 356.1,507.1 358.9,507.2 C361.7,507.3 363.5,503.2 366.1,503.1 C368.7,503.0 361.0,506.0 373.2,506.6 C385.4,507.2 419.8,505.3 432.6,506.6 C445.4,507.9 437.3,512.3 442.9,513.7 C448.5,515.1 458.7,513.4 463.4,514.1 C468.1,514.8 466.6,517.4 468.5,517.4 C470.4,517.4 471.2,514.0 473.6,514.1 C476.0,514.2 477.9,517.1 481.8,517.8 C485.7,518.5 491.5,517.0 495.1,517.8 C498.7,518.6 499.3,521.9 501.2,521.9 C503.1,521.9 503.8,518.0 505.3,517.8 C506.8,517.6 507.5,521.0 509.4,520.9 C511.3,520.8 510.2,518.0 515.6,517.4 C521.0,516.8 533.7,518.1 539.1,517.4 C544.5,516.7 542.7,513.4 545.3,513.7 C547.9,514.0 551.5,517.7 553.5,518.8 C555.5,519.9 554.5,518.8 556.0,519.5 C557.5,520.2 559.5,520.5 561.9,522.4 C564.3,524.3 566.0,527.0 569.1,529.6 C572.2,532.2 575.6,535.1 578.7,536.8 C581.8,538.5 583.2,537.6 585.8,539.1 C588.4,540.6 590.1,543.8 593.0,545.1 C595.9,546.4 598.6,544.6 601.4,546.3 C604.2,548.0 605.7,553.3 608.5,554.2 C611.3,555.1 614.0,551.2 616.9,551.1 C619.8,551.0 621.7,553.1 624.1,553.5 C626.5,553.9 627.4,552.8 630.0,553.5 C632.6,554.2 635.8,557.1 638.4,557.1 C641.0,557.1 640.5,554.2 644.4,553.5 C648.3,552.8 655.3,552.8 659.9,553.5 C664.5,554.2 665.9,556.4 669.4,557.1 C672.9,557.8 675.9,556.5 679.0,557.1 C682.1,557.7 683.6,560.0 686.2,560.6 C688.8,561.2 690.7,559.9 693.3,560.6 C695.9,561.3 697.9,563.1 700.5,564.2 C703.1,565.3 705.5,565.3 707.7,566.6 C709.9,567.9 710.4,570.3 712.4,571.4 C714.4,572.5 715.8,573.3 718.4,572.6 C721.0,571.9 723.7,568.7 726.8,567.8 C729.9,566.9 732.5,568.5 735.1,567.8 C737.7,567.1 738.7,564.0 741.1,564.2 C743.5,564.4 746.1,568.3 748.3,569.0 C750.5,569.7 750.0,570.0 753.1,567.8 C756.2,565.6 760.8,560.4 765.0,557.1 C769.2,553.8 772.7,551.2 775.8,549.9 C778.9,548.6 778.9,550.8 781.7,549.9 C784.5,549.0 788.2,546.5 791.3,545.1 C794.4,543.7 794.8,542.7 798.4,542.2 C802.0,541.7 808.7,542.2 811.0,542.2" fill="none" stroke="#4a52bb" stroke-width="2.2" stroke-linejoin="round"/>
<line x1="89.2" y1="373.8" x2="811.5" y2="373.8" stroke="#000" stroke-width="2.5"/>
<line x1="96.6" y1="364" x2="96.6" y2="427.5" stroke="#000" stroke-width="2.5"/>
<line x1="86" y1="431.6" x2="106.5" y2="422.9" stroke="#000" stroke-width="2.5"/>
<line x1="86" y1="453.2" x2="108" y2="444.2" stroke="#000" stroke-width="2.5"/>
<line x1="96.6" y1="448.8" x2="96.6" y2="605.8000000000001" stroke="#000" stroke-width="2.5"/>
<line x1="89.2" y1="604.7" x2="811.5" y2="604.7" stroke="#000" stroke-width="2.5"/>
<line x1="810.4" y1="362.5" x2="810.4" y2="427.8" stroke="#000" stroke-width="2.5"/>
<line x1="800.4" y1="433.9" x2="822" y2="424.4" stroke="#000" stroke-width="2.5"/>
<line x1="800.2" y1="455.4" x2="820.5" y2="445.3" stroke="#000" stroke-width="2.5"/>
<line x1="810.4" y1="450" x2="810.4" y2="459.5" stroke="#000" stroke-width="2.5"/>
<line x1="811.6" y1="524.8" x2="811.6" y2="612.5" stroke="#000" stroke-width="2.5"/>
<line x1="89.2" y1="373.5" x2="96.6" y2="373.5" stroke="#000" stroke-width="2.3"/>
<text x="75.6" y="380.3" font-size="24" fill="#111" class="serif" text-anchor="end">19</text>
<line x1="89.2" y1="407" x2="96.6" y2="407" stroke="#000" stroke-width="2.3"/>
<text x="75.6" y="413.8" font-size="24" fill="#111" class="serif" text-anchor="end">18</text>
<line x1="89.2" y1="459.2" x2="96.6" y2="459.2" stroke="#000" stroke-width="2.3"/>
<text x="75.6" y="466.0" font-size="24" fill="#111" class="serif" text-anchor="end">12</text>
<line x1="89.2" y1="495.8" x2="96.6" y2="495.8" stroke="#000" stroke-width="2.3"/>
<text x="75.6" y="502.6" font-size="24" fill="#111" class="serif" text-anchor="end">11</text>
<line x1="89.2" y1="532.4" x2="96.6" y2="532.4" stroke="#000" stroke-width="2.3"/>
<text x="75.6" y="539.2" font-size="24" fill="#111" class="serif" text-anchor="end">10</text>
<line x1="89.2" y1="569" x2="96.6" y2="569" stroke="#000" stroke-width="2.3"/>
<text x="75.6" y="575.8" font-size="24" fill="#111" class="serif" text-anchor="end">9</text>
<line x1="89.2" y1="605" x2="96.6" y2="605" stroke="#000" stroke-width="2.3"/>
<text x="75.6" y="611.8" font-size="24" fill="#111" class="serif" text-anchor="end">8</text>
<line x1="96.8" y1="604.7" x2="96.8" y2="612.3" stroke="#000" stroke-width="2.3"/>
<text x="95.8" y="643.6" font-size="24.5" fill="#111" class="serif" text-anchor="middle">21:20</text>
<line x1="198.9" y1="604.7" x2="198.9" y2="612.3" stroke="#000" stroke-width="2.3"/>
<text x="199.1" y="643.6" font-size="24.5" fill="#111" class="serif" text-anchor="middle">21:30</text>
<line x1="301.0" y1="604.7" x2="301.0" y2="612.3" stroke="#000" stroke-width="2.3"/>
<text x="301.2" y="643.6" font-size="24.5" fill="#111" class="serif" text-anchor="middle">21:40</text>
<line x1="403.0" y1="604.7" x2="403.0" y2="612.3" stroke="#000" stroke-width="2.3"/>
<text x="403.2" y="643.6" font-size="24.5" fill="#111" class="serif" text-anchor="middle">21:50</text>
<line x1="505.1" y1="604.7" x2="505.1" y2="612.3" stroke="#000" stroke-width="2.3"/>
<text x="505.3" y="643.6" font-size="24.5" fill="#111" class="serif" text-anchor="middle">22:00</text>
<line x1="607.2" y1="604.7" x2="607.2" y2="612.3" stroke="#000" stroke-width="2.3"/>
<text x="607.4" y="643.6" font-size="24.5" fill="#111" class="serif" text-anchor="middle">22:10</text>
<line x1="709.3" y1="604.7" x2="709.3" y2="612.3" stroke="#000" stroke-width="2.3"/>
<text x="709.5" y="643.6" font-size="24.5" fill="#111" class="serif" text-anchor="middle">22:20</text>
<text x="811.6" y="643.6" font-size="24.5" fill="#111" class="serif" text-anchor="middle">22:30</text>
<text x="93.8" y="356.2" font-size="22.5" fill="#111" class="serif" text-anchor="middle">73</text>
<line x1="201.6" y1="363.3" x2="201.6" y2="373.8" stroke="#000" stroke-width="2.3"/>
<text x="201.2" y="356.2" font-size="22.5" fill="#111" class="serif" text-anchor="middle">75</text>
<line x1="300.6" y1="363.3" x2="300.6" y2="373.8" stroke="#000" stroke-width="2.3"/>
<text x="300.2" y="356.2" font-size="22.5" fill="#111" class="serif" text-anchor="middle">76</text>
<line x1="404" y1="363.3" x2="404" y2="373.8" stroke="#000" stroke-width="2.3"/>
<text x="403.6" y="356.2" font-size="22.5" fill="#111" class="serif" text-anchor="middle">76</text>
<line x1="497.6" y1="363.3" x2="497.6" y2="373.8" stroke="#000" stroke-width="2.3"/>
<text x="497.2" y="356.2" font-size="22.5" fill="#111" class="serif" text-anchor="middle">78</text>
<line x1="602.2" y1="363.3" x2="602.2" y2="373.8" stroke="#000" stroke-width="2.3"/>
<text x="601.8" y="356.2" font-size="22.5" fill="#111" class="serif" text-anchor="middle">78</text>
<line x1="709.3" y1="363.3" x2="709.3" y2="373.8" stroke="#000" stroke-width="2.3"/>
<text x="708.9" y="356.2" font-size="22.5" fill="#111" class="serif" text-anchor="middle">79</text>
<text x="803" y="356.4" font-size="23.5" fill="#111" class="serif" textLength="124" lengthAdjust="spacingAndGlyphs">79 = RH (%)</text>
<text x="681.3" y="392.6" font-size="17.5" fill="#1a1a1a" class="sans" stroke="#1a1a1a" stroke-width="0.3" textLength="125.6" lengthAdjust="spacingAndGlyphs">May 10 (2020)</text>
<text transform="translate(42.6,581.5) rotate(-90)" font-size="17.5" fill="#1a1a1a" stroke="#1a1a1a" stroke-width="0.3" class="sans" textLength="175" lengthAdjust="spacingAndGlyphs">Temperature, <tspan font-style="italic">T</tspan> (°C)</text>
<text x="434.7" y="671.9" font-size="17.5" fill="#1a1a1a" class="sans" stroke="#1a1a1a" stroke-width="0.3" textLength="45.4" lengthAdjust="spacingAndGlyphs">Time</text>
<line x1="216.6" y1="486" x2="216.6" y2="556.7" stroke="#222" stroke-width="1" stroke-dasharray="2.2,2"/>
<line x1="326.6" y1="537.3" x2="326.6" y2="557.8" stroke="#aaa" stroke-width="1.2" stroke-dasharray="2.2,2"/>
<line x1="530.9" y1="468.7" x2="530.9" y2="514.7" stroke="#aaa" stroke-width="1.2" stroke-dasharray="2.2,2"/>
<line x1="709.6" y1="524.8" x2="709.6" y2="570.2" stroke="#222" stroke-width="1" stroke-dasharray="2.2,2"/>
<circle cx="155" cy="437.6" r="13.2" fill="none" stroke="#1a1a1a" stroke-width="1.5"/>
<text x="155" y="444.4" font-size="19" fill="#1a1a1a" class="sans" stroke="#1a1a1a" stroke-width="0.3" text-anchor="middle">1</text>
<circle cx="159.6" cy="540.8" r="13.2" fill="none" stroke="#1a1a1a" stroke-width="1.5"/>
<text x="159.6" y="547.6" font-size="19" fill="#1a1a1a" class="sans" stroke="#1a1a1a" stroke-width="0.3" text-anchor="middle">2</text>
<circle cx="414.2" cy="540.3" r="13.2" fill="none" stroke="#1a1a1a" stroke-width="1.5"/>
<text x="414.2" y="547.1" font-size="19" fill="#1a1a1a" class="sans" stroke="#1a1a1a" stroke-width="0.3" text-anchor="middle">3</text>
<circle cx="487.2" cy="433.2" r="13.3" fill="none" stroke="#1a1a1a" stroke-width="1.5"/>
<text x="487.2" y="440.0" font-size="19" fill="#1a1a1a" class="sans" stroke="#1a1a1a" stroke-width="0.3" text-anchor="middle">4</text>
<circle cx="738.8" cy="453.6" r="13.2" fill="none" stroke="#1a1a1a" stroke-width="1.5"/>
<text x="738.8" y="460.4" font-size="19" fill="#1a1a1a" class="sans" stroke="#1a1a1a" stroke-width="0.3" text-anchor="middle">5</text>
<text x="118.4" y="462.4" font-size="21" fill="#1a1a1a" stroke="#1a1a1a" stroke-width="0.35" class="serif" font-style="italic">T</text>
<text x="129.0" y="467.59999999999997" font-size="16.5" fill="#1a1a1a" stroke="#1a1a1a" stroke-width="0.35" class="serif" font-style="italic" textLength="72.6" lengthAdjust="spacingAndGlyphs">emitter A</text>
<text x="115.4" y="500.4" font-size="21" fill="#5761b8" stroke="#5761b8" stroke-width="0.35" class="serif" font-style="italic">T</text>
<text x="126.0" y="505.59999999999997" font-size="16.5" fill="#5761b8" stroke="#5761b8" stroke-width="0.35" class="serif" font-style="italic" textLength="72.6" lengthAdjust="spacingAndGlyphs">emitter B</text>
<text x="247.6" y="411.7" font-size="21" fill="#b5b5b5" stroke="#b5b5b5" stroke-width="0.35" class="serif" font-style="italic">T</text>
<text x="258.2" y="416.9" font-size="16.5" fill="#b5b5b5" stroke="#b5b5b5" stroke-width="0.35" class="serif" font-style="italic" textLength="65" lengthAdjust="spacingAndGlyphs">ambient</text>
<text x="101.2" y="573.0" font-size="17.5" fill="#1a1a1a" class="sans" stroke="#1a1a1a" stroke-width="0.3" textLength="147.8" lengthAdjust="spacingAndGlyphs">Put concentrator</text>
<text x="119.7" y="598.3" font-size="17.5" fill="#1a1a1a" class="sans" stroke="#1a1a1a" stroke-width="0.3" textLength="110.3" lengthAdjust="spacingAndGlyphs">on emitter A</text>
<text x="293" y="572.9" font-size="17.5" fill="#1a1a1a" class="sans" stroke="#1a1a1a" stroke-width="0.3" textLength="236.8" lengthAdjust="spacingAndGlyphs">Remove concentrator from</text>
<text x="371.6" y="598.3" font-size="17.5" fill="#1a1a1a" class="sans" stroke="#1a1a1a" stroke-width="0.3" textLength="81.2" lengthAdjust="spacingAndGlyphs">emitter A</text>
<text x="396.2" y="462.3" font-size="17.5" fill="#1a1a1a" class="sans" stroke="#1a1a1a" stroke-width="0.3" textLength="175.3" lengthAdjust="spacingAndGlyphs">Put concentrator on</text>
<text x="442.9" y="488.9" font-size="17.5" fill="#5761b8" class="sans" stroke="#5761b8" stroke-width="0.3" textLength="81.9" lengthAdjust="spacingAndGlyphs">emitter B</text>
<text x="619.8" y="486.1" font-size="17.5" fill="#1a1a1a" class="sans" stroke="#1a1a1a" stroke-width="0.3" textLength="237" lengthAdjust="spacingAndGlyphs">Remove concentrator from</text>
<text x="698.1" y="512.4" font-size="17.5" fill="#5761b8" class="sans" stroke="#5761b8" stroke-width="0.3" textLength="81.2" lengthAdjust="spacingAndGlyphs">emitter B</text>
</g>
</svg>
</body></html>
